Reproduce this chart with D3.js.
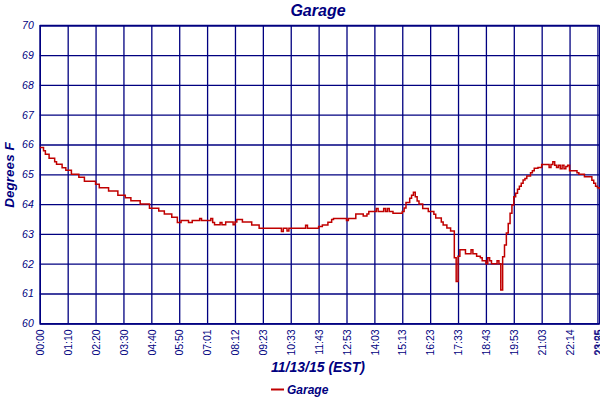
<!DOCTYPE html>
<html>
<head>
<meta charset="utf-8">
<script src="https://cdn.jsdelivr.net/npm/d3@7/dist/d3.min.js"></script>
<style>
  html, body { margin: 0; padding: 0; background: #fff; }
  svg { display: block; }
</style>
</head>
<body>
<svg id="chart" width="600" height="400"></svg>
<script>
// ---- Data ----
const seriesName = "Garage";
// sample index at which the reading changes (step chart)
const sampleIdx = [
  0, 2, 3, 5, 8, 9, 12, 14, 17, 21, 24, 30, 32, 37, 42, 46, 49, 54, 59, 64,
  67, 71, 74, 76, 80, 82, 86, 87, 92, 93, 94, 97, 98, 100, 104, 105, 106, 109, 114, 118,
  130, 131, 133, 134, 143, 144, 150, 152, 155, 157, 158, 165, 166, 170, 174, 176, 177, 181, 182, 185,
  186, 187, 188, 190, 195, 196, 197, 199, 200, 201, 202, 203, 204, 206, 209, 212, 213, 216, 217, 219,
  221, 223, 224, 225, 226, 229, 232, 233, 235, 237, 238, 240, 241, 242, 243, 246, 247, 248, 249, 250,
  251, 252, 253, 254, 255, 256, 257, 258, 259, 260, 261, 262, 264, 265, 266, 268, 270, 274, 275, 276,
  277, 278, 279, 280, 281, 282, 283, 284, 285, 289, 290, 293, 297, 298, 299, 300, 301
];
const temps = [
  65.90, 65.79, 65.67, 65.54, 65.42, 65.34, 65.22, 65.14, 65.00, 64.90, 64.77, 64.67, 64.55, 64.44, 64.30, 64.21, 64.11, 64.00, 63.86, 63.77,
  63.67, 63.56, 63.38, 63.45, 63.38, 63.45, 63.52, 63.45, 63.52, 63.38, 63.31, 63.38, 63.31, 63.40, 63.31, 63.40, 63.48, 63.40, 63.30, 63.19,
  63.08, 63.19, 63.10, 63.19, 63.29, 63.19, 63.25, 63.30, 63.39, 63.48, 63.52, 63.45, 63.52, 63.67, 63.60, 63.67, 63.75, 63.85, 63.75, 63.85,
  63.75, 63.85, 63.75, 63.69, 63.75, 63.87, 64.05, 64.20, 64.30, 64.40, 64.25, 64.10, 64.00, 63.85, 63.75, 63.66, 63.53, 63.40, 63.30, 63.20,
  63.10, 62.20, 61.40, 62.25, 62.47, 62.33, 62.47, 62.33, 62.25, 62.20, 62.10, 62.00, 62.20, 62.10, 62.00, 62.10, 62.00, 61.12, 62.23, 62.63,
  63.03, 63.35, 63.69, 63.97, 64.25, 64.36, 64.50, 64.60, 64.70, 64.81, 64.86, 64.94, 65.05, 65.12, 65.20, 65.23, 65.33, 65.23, 65.33, 65.42,
  65.30, 65.23, 65.30, 65.19, 65.30, 65.19, 65.26, 65.30, 65.12, 65.05, 65.00, 64.92, 64.80, 64.70, 64.60, 64.55, 64.50
];
// x tick labels and the sample index they sit on
const tickIdx = [0, 15, 30, 45, 60, 75, 90, 105, 120, 135, 150, 165, 180, 195, 210, 225, 240, 255, 270, 285, 300, 301];
const tickLabels = ["00:00", "01:10", "02:20", "03:30", "04:40", "05:50", "07:01", "08:12", "09:23", "10:33", "11:43",
  "12:53", "14:03", "15:13", "16:23", "17:33", "18:43", "19:53", "21:03", "22:14", "23:25", "23:55"];
const yTicks = [60, 61, 62, 63, 64, 65, 66, 67, 68, 69, 70];

// ---- Layout ----
const navy = "#000080";
const red = "#c00000";
const plotL = 39.8, plotR = 599.3, plotT = 25.3, plotB = 323.3;

const svg = d3.select("#chart");
svg.append("rect").attr("width", 600).attr("height", 400).attr("fill", "#fff");

const x = d3.scaleLinear().domain([0, 301]).range([plotL, plotR]);
const y = d3.scaleLinear().domain([60, 70]).range([plotB, plotT]);

// Y axis with grid
const yAxis = svg.append("g")
  .attr("transform", `translate(${plotL},0)`)
  .call(d3.axisLeft(y).tickValues(yTicks).tickFormat(d3.format("d"))
    .tickSize(-(plotR - plotL)).tickPadding(6));
yAxis.select(".domain").attr("stroke", navy).attr("stroke-width", 1.3);
yAxis.selectAll(".tick line").attr("stroke", navy).attr("stroke-width", 1.3);
yAxis.selectAll(".tick text")
  .attr("fill", navy)
  .style("font-family", "'Liberation Sans', Arial, sans-serif")
  .style("font-style", "italic")
  .style("font-size", "10.5px");

// X axis with grid
const data = sampleIdx.map((i, k) => ({ i, v: temps[k] }));
const xAxis = svg.append("g")
  .attr("transform", `translate(0,${plotB})`)
  .call(d3.axisBottom(x).tickValues(tickIdx)
    .tickFormat((d, k) => tickLabels[k])
    .tickSize(-(plotB - plotT)));
xAxis.select(".domain").attr("stroke", navy).attr("stroke-width", 1.3);
xAxis.selectAll(".tick line").attr("stroke", navy).attr("stroke-width", 1.3);
xAxis.selectAll(".tick text")
  .attr("fill", navy)
  .attr("transform", "rotate(-90)")
  .attr("text-anchor", "end")
  .attr("x", -6)
  .attr("y", 0)
  .attr("dy", "0.35em")
  .style("font-family", "'Liberation Sans', Arial, sans-serif")
  .style("font-size", "10.5px");

// top border
svg.append("line").attr("x1", plotL).attr("x2", plotR).attr("y1", plotT).attr("y2", plotT)
  .attr("stroke", navy).attr("stroke-width", 1.3);

// Data line
const line = d3.line()
  .x(d => x(d.i))
  .y(d => y(d.v))
  .curve(d3.curveStepAfter);
svg.append("path")
  .datum(data)
  .attr("fill", "none")
  .attr("stroke", red)
  .attr("stroke-width", 1.5)
  .attr("d", line);

// Titles
const titleFont = "'Liberation Sans', Arial, sans-serif";
svg.append("text")
  .attr("x", 318).attr("y", 16)
  .attr("text-anchor", "middle")
  .attr("fill", navy)
  .style("font-family", titleFont).style("font-weight", "bold").style("font-style", "italic")
  .style("font-size", "16px")
  .text("Garage");

svg.append("text")
  .attr("transform", "translate(14,175) rotate(-90)")
  .attr("text-anchor", "middle")
  .attr("fill", navy)
  .style("font-family", titleFont).style("font-weight", "bold").style("font-style", "italic")
  .style("font-size", "13.5px")
  .text("Degrees F");

svg.append("text")
  .attr("x", 318).attr("y", 372)
  .attr("text-anchor", "middle")
  .attr("fill", navy)
  .style("font-family", titleFont).style("font-weight", "bold").style("font-style", "italic")
  .style("font-size", "14px")
  .text("11/13/15 (EST)");

// Legend
const legend = svg.append("g");
legend.append("line").attr("x1", 271).attr("x2", 284).attr("y1", 389.5).attr("y2", 389.5)
  .attr("stroke", red).attr("stroke-width", 2);
legend.append("text")
  .attr("x", 287).attr("y", 393.5)
  .attr("fill", navy)
  .style("font-family", titleFont).style("font-weight", "bold").style("font-style", "italic")
  .style("font-size", "12px")
  .text(seriesName);
</script>
</body>
</html>
